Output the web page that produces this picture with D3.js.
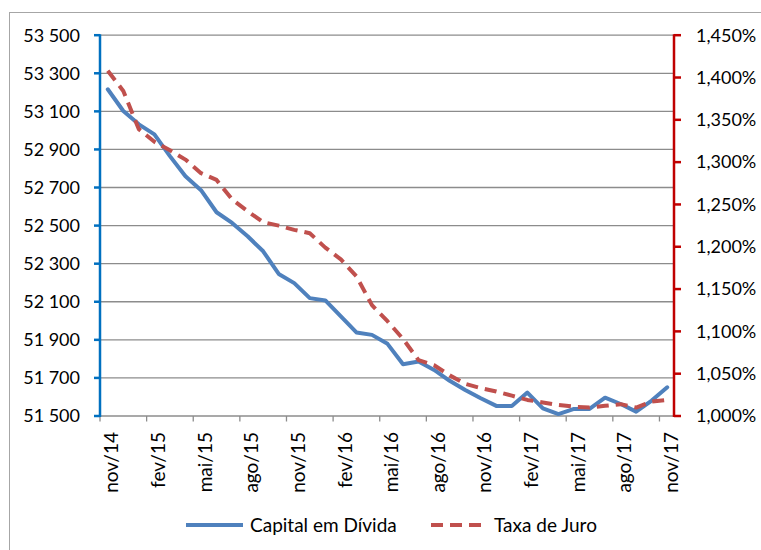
<!DOCTYPE html>
<html>
<head>
<meta charset="utf-8">
<script src="https://cdn.jsdelivr.net/npm/d3@7"></script>
<style>
  html, body { margin: 0; padding: 0; background: #fff; }
  svg { display: block; }
  text { font-family: Lato, "Open Sans", sans-serif; fill: #000; }
</style>
</head>
<body>
<svg id="chart" width="761" height="550"></svg>
<script>
const categories = ["nov/14","dez/14","jan/15","fev/15","mar/15","abr/15","mai/15","jun/15","jul/15","ago/15","set/15","out/15",
  "nov/15","dez/15","jan/16","fev/16","mar/16","abr/16","mai/16","jun/16","jul/16","ago/16","set/16","out/16",
  "nov/16","dez/16","jan/17","fev/17","mar/17","abr/17","mai/17","jun/17","jul/17","ago/17","set/17","out/17","nov/17"];
const capitalEmDivida = [53216,53102,53032,52979,52865,52759,52686,52570,52514,52444,52365,52246,
  52198,52119,52107,52023,51939,51926,51879,51772,51786,51742,51685,51637,
  51593,51553,51553,51623,51540,51510,51537,51537,51596,51563,51523,51581,51651];
const taxaDeJuro = [1.408,1.384,1.339,1.324,1.314,1.303,1.287,1.279,1.256,1.242,1.229,1.225,
  1.220,1.216,1.199,1.185,1.165,1.131,1.112,1.091,1.066,1.060,1.048,1.038,
  1.033,1.029,1.024,1.019,1.016,1.013,1.011,1.010,1.012,1.014,1.010,1.017,1.019];
const leftTicks = [51500,51700,51900,52100,52300,52500,52700,52900,53100,53300,53500];
const rightTicks = [1.000,1.050,1.100,1.150,1.200,1.250,1.300,1.350,1.400,1.450];
const seriesNames = ["Capital em Dívida","Taxa de Juro"];

const svg = d3.select("#chart");
const L = 100, R = 675, T = 35.2, B = 416;

// frame
svg.append("rect").attr("x", 9.5).attr("y", 12.5).attr("width", 800).attr("height", 600)
  .attr("fill", "none").attr("stroke", "#a6a6a6").attr("stroke-width", 1);

const x = d3.scaleBand().domain(categories).range([L, R]).padding(0);
const yL = d3.scaleLinear().domain([51500, 53500]).range([B, T]);
const yR = d3.scaleLinear().domain([1.0, 1.45]).range([B, T]);

const ptLocale = d3.formatLocale({decimal: ",", thousands: " ", grouping: [3], currency: ["", ""]});
const fmtL = ptLocale.format(",d");
const fmtR = v => ptLocale.format(".3f")(v) + "%";

// gridlines
svg.append("g").selectAll("line").data(leftTicks.slice(1)).join("line")
  .attr("x1", L).attr("x2", R - 1)
  .attr("y1", d => yL(d)).attr("y2", d => yL(d))
  .attr("stroke", "#8c8c8c").attr("stroke-width", 1.3);

// bottom axis
const tickIdx = categories.map((c, i) => i).filter(i => i % 3 === 0);
const gx = svg.append("g");
gx.append("line").attr("x1", L).attr("x2", R).attr("y1", B).attr("y2", B)
  .attr("stroke", "#8c8c8c").attr("stroke-width", 1.3);
gx.selectAll("line.t").data(tickIdx).join("line").attr("class", "t")
  .attr("x1", i => x(categories[i])).attr("x2", i => x(categories[i]))
  .attr("y1", B).attr("y2", B + 5.5)
  .attr("stroke", "#8c8c8c").attr("stroke-width", 1.3);
gx.selectAll("text").data(tickIdx).join("text")
  .attr("transform", i => `translate(${x(categories[i]) + x.bandwidth() / 2 + 4},432) rotate(-90)`)
  .attr("text-anchor", "end").attr("dy", "0.35em")
  .style("font-size", "19px")
  .text(i => categories[i]);

// left axis
const gl = svg.append("g");
gl.append("line").attr("x1", L).attr("x2", L).attr("y1", T - 1).attr("y2", B + 1)
  .attr("stroke", "#0070C0").attr("stroke-width", 2.5);
gl.selectAll("line.t").data(leftTicks).join("line").attr("class", "t")
  .attr("x1", L - 6).attr("x2", L).attr("y1", d => yL(d)).attr("y2", d => yL(d))
  .attr("stroke", "#0070C0").attr("stroke-width", 2.5);
gl.selectAll("text").data(leftTicks).join("text")
  .attr("x", 80).attr("y", d => yL(d)).attr("dy", "0.35em")
  .attr("text-anchor", "end").style("font-size", "18px")
  .text(d => fmtL(d));

// right axis
const RX = 674;
const gr = svg.append("g");
gr.append("line").attr("x1", RX).attr("x2", RX).attr("y1", T - 1).attr("y2", B + 1)
  .attr("stroke", "#C00000").attr("stroke-width", 2.5);
gr.selectAll("line.t").data(rightTicks).join("line").attr("class", "t")
  .attr("x1", RX).attr("x2", RX + 7).attr("y1", d => yR(d)).attr("y2", d => yR(d))
  .attr("stroke", "#C00000").attr("stroke-width", 2.5);
gr.selectAll("text").data(rightTicks).join("text")
  .attr("x", 696).attr("y", d => yR(d)).attr("dy", "0.35em")
  .attr("text-anchor", "start").style("font-size", "18px")
  .text(d => fmtR(d));

// lines
const cx = (d, i) => x(categories[i]) + x.bandwidth() / 2;
const lineCap = d3.line().x(cx).y(d => yL(d));
const lineTax = d3.line().x(cx).y(d => yR(d));
svg.append("path").datum(capitalEmDivida).attr("d", lineCap)
  .attr("fill", "none").attr("stroke", "#4F81BD").attr("stroke-width", 4)
  .attr("stroke-linejoin", "round").attr("stroke-linecap", "round");
svg.append("path").datum(taxaDeJuro).attr("d", lineTax)
  .attr("fill", "none").attr("stroke", "#C0504D").attr("stroke-width", 4)
  .attr("stroke-dasharray", "12,7").attr("stroke-linejoin", "round");

// legend
const LY = 525;
const lg = svg.append("g");
lg.append("line").attr("x1", 186).attr("x2", 243).attr("y1", LY).attr("y2", LY)
  .attr("stroke", "#4F81BD").attr("stroke-width", 4);
lg.append("text").attr("x", 250).attr("y", LY).attr("dy", "0.35em")
  .style("font-size", "19px").text(seriesNames[0]);
lg.append("line").attr("x1", 431).attr("x2", 483).attr("y1", LY).attr("y2", LY)
  .attr("stroke", "#C0504D").attr("stroke-width", 4).attr("stroke-dasharray", "12,7");
lg.append("text").attr("x", 494).attr("y", LY).attr("dy", "0.35em")
  .style("font-size", "19px").text(seriesNames[1]);
</script>
</body>
</html>
